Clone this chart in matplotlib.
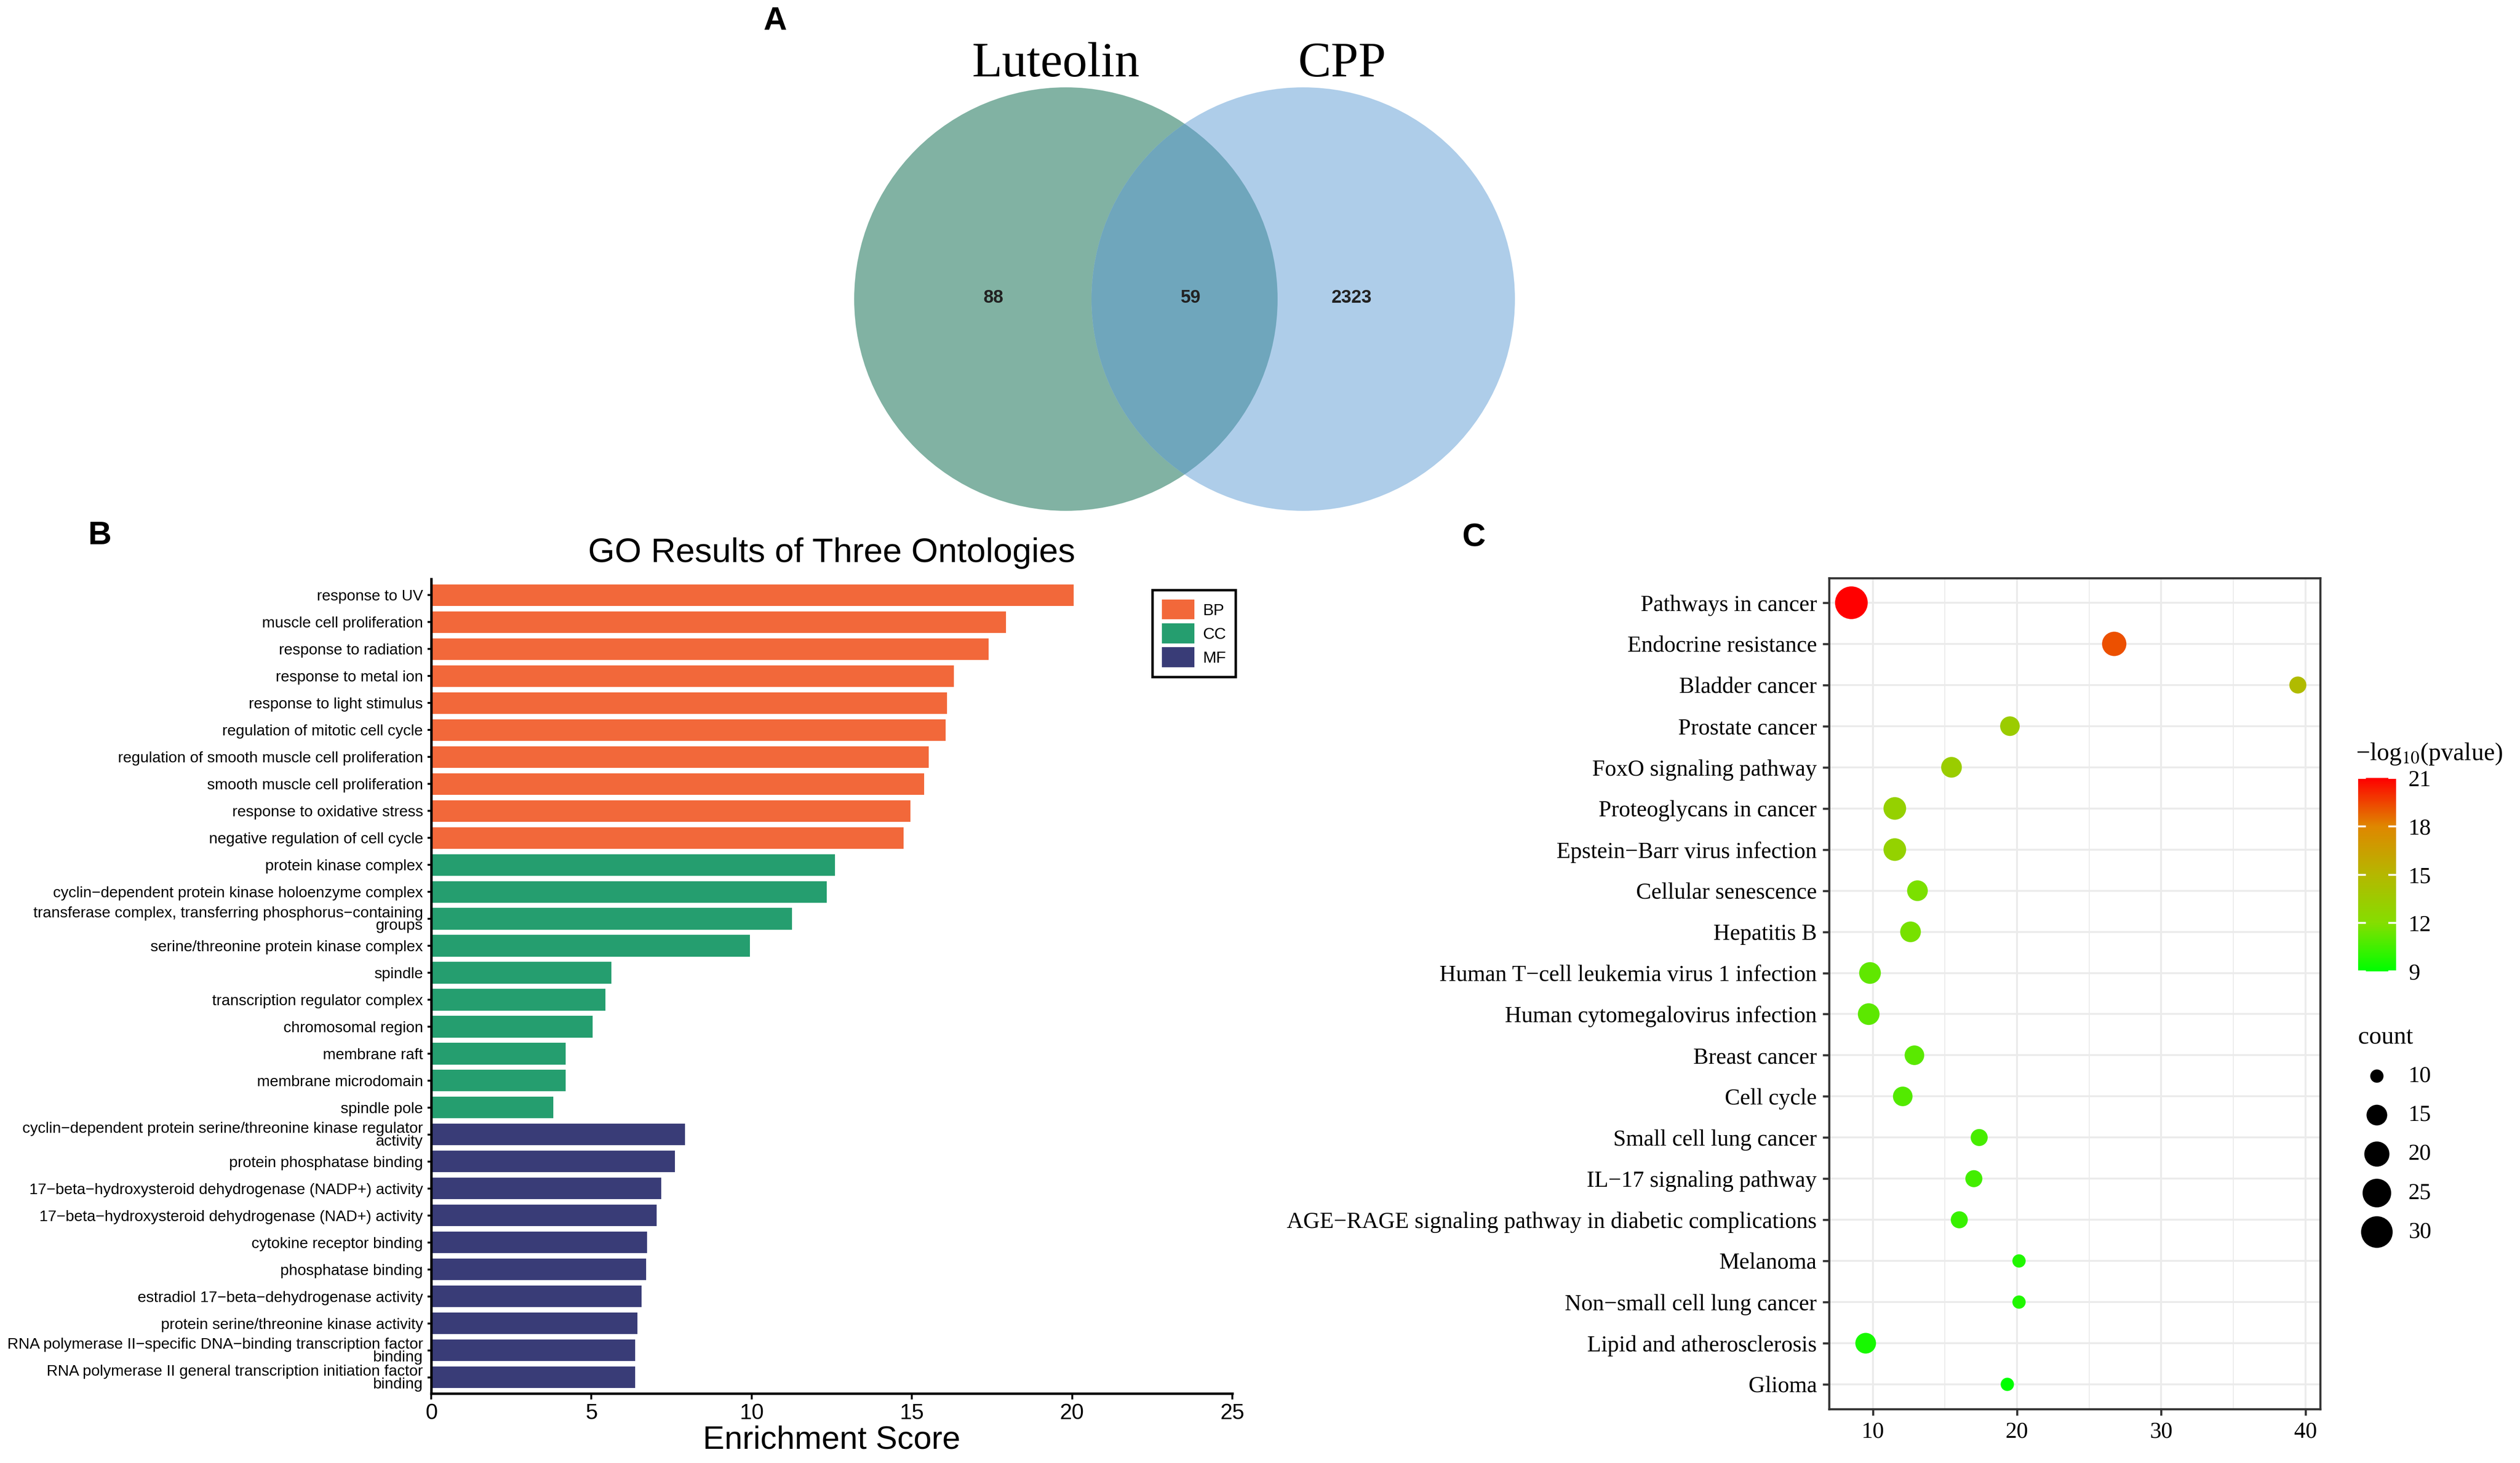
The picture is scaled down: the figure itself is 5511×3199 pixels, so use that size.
import numpy as np
import matplotlib
matplotlib.use('Agg')
import matplotlib.pyplot as plt
from matplotlib.patches import Circle, Patch
from matplotlib.colors import LinearSegmentedColormap
from matplotlib.ticker import MultipleLocator

plt.rcParams['mathtext.fontset'] = 'stix'

# ---- panel A: venn counts ----
venn_names = ['Luteolin', 'CPP']
venn_counts = [88, 59, 2323]   # only Luteolin, both, only CPP

# ---- panel B: GO enrichment ----
go_terms = [
    'response to UV', 'muscle cell proliferation', 'response to radiation',
    'response to metal ion', 'response to light stimulus',
    'regulation of mitotic cell cycle',
    'regulation of smooth muscle cell proliferation',
    'smooth muscle cell proliferation', 'response to oxidative stress',
    'negative regulation of cell cycle',
    'protein kinase complex',
    'cyclin\u2212dependent protein kinase holoenzyme complex',
    'transferase complex, transferring phosphorus\u2212containing\ngroups',
    'serine/threonine protein kinase complex', 'spindle',
    'transcription regulator complex', 'chromosomal region', 'membrane raft',
    'membrane microdomain', 'spindle pole',
    'cyclin\u2212dependent protein serine/threonine kinase regulator\nactivity',
    'protein phosphatase binding',
    '17\u2212beta\u2212hydroxysteroid dehydrogenase (NADP+) activity',
    '17\u2212beta\u2212hydroxysteroid dehydrogenase (NAD+) activity',
    'cytokine receptor binding', 'phosphatase binding',
    'estradiol 17\u2212beta\u2212dehydrogenase activity',
    'protein serine/threonine kinase activity',
    'RNA polymerase II\u2212specific DNA\u2212binding transcription factor\nbinding',
    'RNA polymerase II general transcription initiation factor\nbinding',
]
go_scores = [20.05, 17.94, 17.39, 16.31, 16.09, 16.06, 15.52, 15.38, 14.95, 14.74,
             12.60, 12.35, 11.26, 9.95, 5.62, 5.43, 5.03, 4.19, 4.19, 3.81,
             7.92, 7.60, 7.18, 7.04, 6.73, 6.70, 6.56, 6.44, 6.37, 6.37]
go_onto = ['BP'] * 10 + ['CC'] * 10 + ['MF'] * 10
onto_colors = {'BP': '#F2683A', 'CC': '#259E6F', 'MF': '#393C77'}

# ---- panel C: KEGG ----
kegg_terms = [
    'Pathways in cancer', 'Endocrine resistance', 'Bladder cancer',
    'Prostate cancer', 'FoxO signaling pathway', 'Proteoglycans in cancer',
    'Epstein\u2212Barr virus infection', 'Cellular senescence', 'Hepatitis B',
    'Human T\u2212cell leukemia virus 1 infection',
    'Human cytomegalovirus infection', 'Breast cancer', 'Cell cycle',
    'Small cell lung cancer', 'IL\u221217 signaling pathway',
    'AGE\u2212RAGE signaling pathway in diabetic complications', 'Melanoma',
    'Non\u2212small cell lung cancer', 'Lipid and atherosclerosis', 'Glioma',
]
kegg_x = [8.52, 26.74, 39.47, 19.51, 15.46, 11.53, 11.53, 13.10, 12.62, 9.81,
          9.72, 12.89, 12.08, 17.38, 17.01, 16.00, 20.14, 20.14, 9.51, 19.33]
kegg_logp = [21.0, 19.2, 14.7, 13.4, 13.3, 13.0, 12.95, 11.8, 11.7, 11.2,
             11.1, 11.05, 10.9, 10.6, 10.5, 10.3, 9.75, 9.75, 9.55, 9.0]
kegg_count = [32, 19, 12, 14, 15, 17, 17, 15, 15, 16,
              16, 14, 14, 12, 12, 12, 10, 10, 15, 10]
count_breaks = [10, 15, 20, 25, 30]
logp_breaks = [9, 12, 15, 18, 21]

W, H, DPI = 5511, 3199, 300
fig = plt.figure(figsize=(W / DPI, H / DPI), dpi=DPI)

SANS = 'Liberation Sans'
SERIF = 'Liberation Serif'


def px_axes(l, t, r, b):
    return fig.add_axes([l / W, 1 - b / H, (r - l) / W, (b - t) / H])


def dot_size(c):
    d = 17.8 + 11.2 * np.sqrt(np.asarray(c, float) - 9)   # diameter in px
    return (d * 72 / DPI) ** 2


# overlay for venn, panel letters and legends
ov = fig.add_axes([0, 0, 1, 1])
ov.set_xlim(0, W)
ov.set_ylim(H, 0)
ov.axis('off')

# ---------- A ----------
r = 463
left = Circle((2331, 654), r, facecolor='#81B2A3', edgecolor='none')
right = Circle((2850, 654), r, facecolor='#AECDE9', edgecolor='none')
ov.add_patch(left)
ov.add_patch(right)
mid = Circle((2850, 654), r, facecolor='#6FA6BC', edgecolor='none')
ov.add_patch(mid)
mid.set_clip_path(left)
ov.text(2309, 167, venn_names[0], family=SERIF, fontsize=26, ha='center', va='baseline')
ov.text(2935, 167, venn_names[1], family=SERIF, fontsize=26, ha='center', va='baseline')
for x, v in zip([2173, 2604, 2956], venn_counts):
    ov.text(x, 651, str(v), family=SANS, fontsize=9.5, fontweight='bold',
            ha='center', va='center', color='#222222')

ov.text(1695, 47, 'A', family=SANS, fontsize=17, fontweight='bold', ha='center', va='center')
ov.text(218, 1172, 'B', family=SANS, fontsize=17, fontweight='bold', ha='center', va='center')
ov.text(3223, 1176, 'C', family=SANS, fontsize=17, fontweight='bold', ha='center', va='center')

# ---------- B ----------
axB = px_axes(943, 1266, 2695, 3047)
n = len(go_terms)
yB = np.arange(n)[::-1]
axB.barh(yB, go_scores, height=0.8, color=[onto_colors[o] for o in go_onto])
axB.set_ylim(-0.6, n - 0.4)
axB.set_xlim(0, 25)
axB.set_xticks([0, 5, 10, 15, 20, 25])
axB.set_yticks(yB)
axB.set_yticklabels(go_terms, family=SANS, fontsize=8.1, linespacing=0.85)
for lab in axB.get_xticklabels():
    lab.set_family(SANS)
axB.tick_params(axis='y', length=2, width=1, pad=2.3)
axB.tick_params(axis='x', length=3, width=1, labelsize=11.5, pad=2)
for s in ['top', 'right']:
    axB.spines[s].set_visible(False)
for s in ['left', 'bottom']:
    axB.spines[s].set_linewidth(1.3)
axB.set_title('GO Results of Three Ontologies', family=SANS, fontsize=18, pad=9)
axB.set_xlabel('Enrichment Score', family=SANS, fontsize=17, labelpad=1)
handles = [Patch(facecolor=onto_colors[k], edgecolor='none') for k in ['BP', 'CC', 'MF']]
legB = axB.legend(handles, ['BP', 'CC', 'MF'], loc='upper left',
                  bbox_to_anchor=(2520 / W, 1 - 1290 / H), bbox_transform=fig.transFigure,
                  borderaxespad=0, prop={'family': SANS, 'size': 8.5},
                  handlelength=2.0, handleheight=1.5, labelspacing=0.25,
                  handletextpad=0.5, borderpad=0.6, fancybox=False, framealpha=1)
legB.get_frame().set_edgecolor('black')
legB.get_frame().set_linewidth(1.3)

# ---------- C ----------
axC = px_axes(4000, 1264, 5074, 3081)
m = len(kegg_terms)
yC = np.arange(m)[::-1]
cmap = LinearSegmentedColormap.from_list(
    'gr', ['#00FF00', '#85DE00', '#B5B700', '#DF8700', '#FF0000'])
sc = axC.scatter(kegg_x, yC, s=dot_size(kegg_count), c=kegg_logp, cmap=cmap,
                 vmin=9, vmax=21, linewidths=0, zorder=3)
xr = max(kegg_x) - min(kegg_x)
axC.set_xlim(min(kegg_x) - 0.05 * xr, max(kegg_x) + 0.05 * xr)
axC.set_ylim(-0.6, m - 0.4)
axC.set_xticks([10, 20, 30, 40])
axC.xaxis.set_minor_locator(MultipleLocator(5))
axC.set_yticks(yC)
axC.set_yticklabels(kegg_terms, family=SERIF, fontsize=12)
for lab in axC.get_xticklabels():
    lab.set_family(SERIF)
axC.set_axisbelow(True)
axC.grid(which='major', color='#EBEBEB', lw=1.0)
axC.grid(which='minor', axis='x', color='#EBEBEB', lw=0.55)
axC.tick_params(which='major', color='#333333', length=3.4, width=1.1,
                labelsize=12, pad=3)
axC.tick_params(which='minor', length=0)
for s in axC.spines.values():
    s.set_color('#333333')
    s.set_linewidth(1.1)

# colour bar
cax = px_axes(5157, 1701, 5240, 2124)
cb = fig.colorbar(sc, cax=cax)
cb.outline.set_visible(False)
cb.set_ticks(logp_breaks)
cax.tick_params(length=0, labelsize=12, pad=6.5)
for lab in cax.get_yticklabels():
    lab.set_family(SERIF)
cax.hlines(logp_breaks, 0, 0.2, colors='white', lw=1)
cax.hlines(logp_breaks, 0.8, 1, colors='white', lw=1)
ov.text(5152, 1662, '\u2212log$_{10}$(pvalue)', family=SERIF, fontsize=13,
        ha='left', va='baseline')

# size legend
ov.text(5157, 2281, 'count', family=SERIF, fontsize=13, ha='left', va='baseline')
leg_y = np.linspace(2353, 2694, len(count_breaks))
ov.scatter([5198] * len(count_breaks), leg_y, s=dot_size(count_breaks), color='black',
           linewidths=0)
for yy, c in zip(leg_y, count_breaks):
    ov.text(5267, yy, str(c), family=SERIF, fontsize=12, ha='left', va='center')

fig.savefig('out.png', dpi=DPI)
